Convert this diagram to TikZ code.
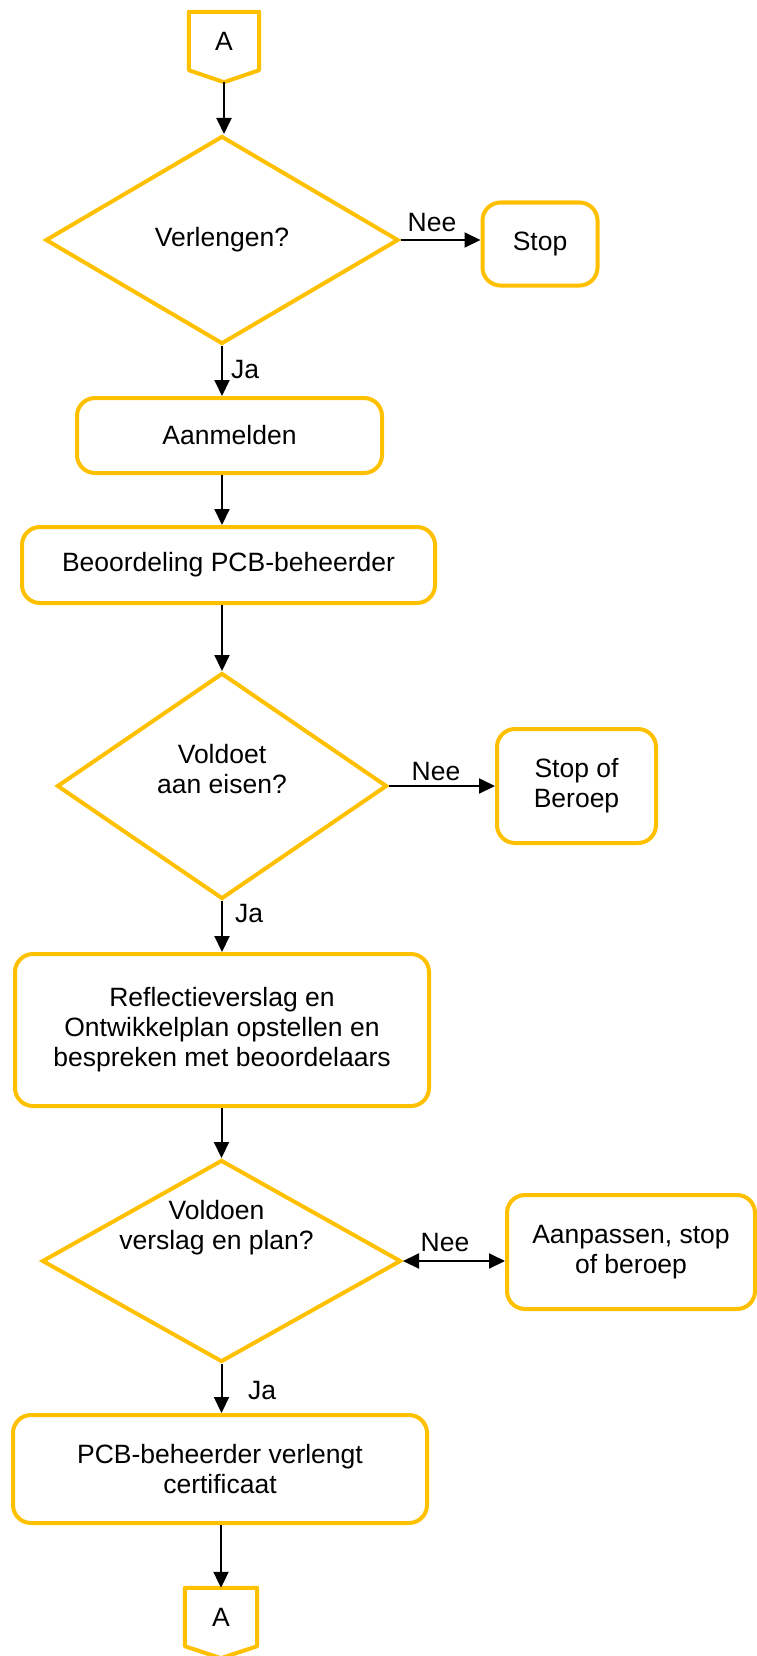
\documentclass[tikz,border=0pt]{standalone}
\usepackage{fontspec}
\setmainfont{Liberation Sans}
\usetikzlibrary{shapes.geometric,arrows.meta}
\definecolor{gold}{HTML}{FFC000}
\begin{document}
\begin{tikzpicture}[x=1pt,y=-1pt,
  every node/.style={font=\fontsize{26.5}{30}\selectfont, align=center},
  box/.style={draw=gold, line width=4pt, rounded corners=18pt, inner sep=0pt},
  decision/.style={draw=gold, line width=4pt, diamond, inner sep=0pt},
  conn/.style={draw=gold, line width=4pt, line join=round},
  arr/.style={line width=2pt, -{Triangle[length=16pt,width=15pt]}},
  darr/.style={line width=2pt, {Triangle[length=16pt,width=15pt]}-{Triangle[length=16pt,width=15pt]}},
  lbl/.style={inner sep=0pt}]
\useasboundingbox (0,0) rectangle (757,1656);
\fill[white] (0,0) rectangle (757,1656);

% top connector
\node[lbl, minimum width=70pt, minimum height=58pt] (a1) at (224,41) {A};
\coordinate (a1tip) at ([yshift=-12pt]a1.south);
\draw[conn] (a1.north west) -- (a1.north east) -- (a1.south east) -- (a1tip) -- (a1.south west) -- cycle;

% decision 1
\node[decision, minimum width=353pt, minimum height=208pt,
  label={[lbl]center:Verlengen?}] (d1) at (222,240) {};
\node[box, minimum width=115pt, minimum height=83pt] (stop) at (540,244) {Stop};

\node[box, minimum width=305pt, minimum height=75pt] (aan) at (229.5,435.5) {Aanmelden};
\node[box, minimum width=413pt, minimum height=76pt] (beo) at (228.5,565) {Beoordeling PCB-beheerder};

% decision 2
\node[decision, minimum width=330pt, minimum height=226pt,
  label={[lbl, yshift=17pt]center:Voldoet\\aan eisen?}] (d2) at (222,786) {};
\node[box, minimum width=159pt, minimum height=114pt] (sob) at (576.5,786) {Stop of\\Beroep};

\node[box, minimum width=414pt, minimum height=152pt] (refl) at (222,1030)
  {Reflectieverslag en\\Ontwikkelplan opstellen en\\bespreken met beoordelaars};

% decision 3
\node[decision, minimum width=359pt, minimum height=202pt,
  label={[lbl, xshift=-5pt, yshift=33pt]center:Voldoen\\verslag en plan?}] (d3) at (221.5,1261) {};
\node[box, minimum width=248pt, minimum height=114pt] (aanp) at (631,1252) {Aanpassen, stop\\of beroep};

\node[box, minimum width=414pt, minimum height=108pt] (pcb) at (220,1469)
  {PCB-beheerder verlengt\\certificaat};

% bottom connector
\node[lbl, minimum width=72pt, minimum height=58pt] (a2) at (221,1617) {A};
\coordinate (a2tip) at ([yshift=-12pt]a2.south);
\draw[conn] (a2.north west) -- (a2.north east) -- (a2.south east) -- (a2tip) -- (a2.south west) -- cycle;

% connectors
\draw[arr] (a1tip) -- (a1tip |- d1.north);
\draw[arr] (d1.east) -- (stop.west |- d1.east);
\draw[arr] (d1.south) -- (d1.south |- aan.north);
\draw[arr] (aan.south -| d1.south) -- (beo.north -| d1.south);
\draw[arr] (beo.south -| d2.north) -- (d2.north);
\draw[arr] (d2.east) -- (sob.west |- d2.east);
\draw[arr] (d2.south) -- (refl.north -| d2.south);
\draw[arr] (refl.south -| d3.north) -- (d3.north);
\draw[darr] (d3.east) -- (aanp.west |- d3.east);
\draw[arr] (d3.south) -- (pcb.north -| d3.south);
\draw[arr] (pcb.south -| a2.north) -- (a2.north);

% labels
\node[lbl] (nee1) at (432,223) {Nee};
\node[lbl] (ja1) at (245,370) {Ja};
\node[lbl] (nee2) at (436,772) {Nee};
\node[lbl] (ja2) at (249,914) {Ja};
\node[lbl] (nee3) at (445,1242) {Nee};
\node[lbl] (ja3) at (262,1390) {Ja};
\end{tikzpicture}
\end{document}
